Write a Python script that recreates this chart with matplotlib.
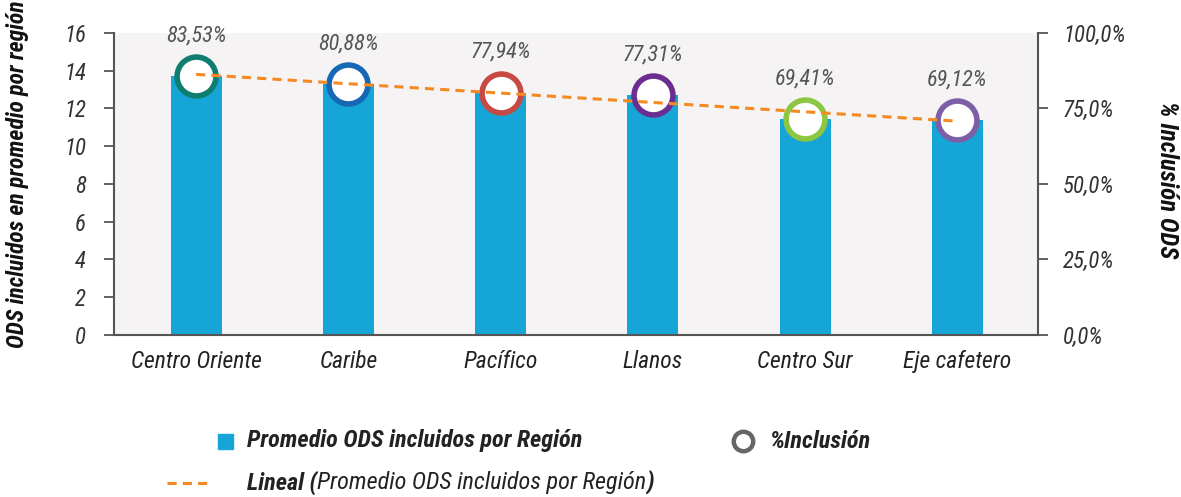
import numpy as np
import matplotlib.pyplot as plt
from matplotlib import font_manager
from matplotlib.lines import Line2D
from matplotlib.patches import Rectangle
from matplotlib.ticker import FuncFormatter

# Datos por región
regiones = ["Centro Oriente", "Caribe", "Pacífico", "Llanos", "Centro Sur", "Eje cafetero"]
promedio_ods = [13.72, 13.30, 12.84, 12.72, 11.44, 11.39]
inclusion = [83.53, 80.88, 77.94, 77.31, 69.41, 69.12]
colores_circulo = ["#0F7D6F", "#1667B4", "#C64A43", "#6C2D91", "#8DC641", "#7D5FA6"]

# fuente condensada si hay alguna instalada
fuentes = {(f.name, f.stretch) for f in font_manager.fontManager.ttflist}
nombres = {n for n, _ in fuentes}
familia, escala = "Liberation Sans", 0.9
for cand in ["Roboto Condensed", "Open Sans Condensed", "Liberation Sans Narrow"]:
    if cand in nombres:
        familia, escala = cand, 1.0
        break
else:
    if ("DejaVu Sans", "condensed") in fuentes:
        familia, escala = "DejaVu Sans", 0.95
        plt.rcParams["font.stretch"] = "condensed"

plt.rcParams["font.family"] = [familia, "DejaVu Sans"]
plt.rcParams["font.style"] = "italic"

def fs(v):
    return v * escala

color_barra = "#16A5D7"
color_tend = "#F58A22"

fig = plt.figure(figsize=(11.81, 4.97), dpi=100)
ax = fig.add_axes([0.0965, 0.326, 0.7824, 0.6076])
ax.set_facecolor("#F5F3F4")

x = np.arange(len(regiones))
ax.bar(x, promedio_ods, width=0.335, color=color_barra, zorder=2)

# circulos de inclusion sobre cada barra
for xi, yi, c, p in zip(x, promedio_ods, colores_circulo, inclusion):
    ax.plot(xi, yi, "o", ms=28, mew=4, mec=c, mfc="white", zorder=3)
    ax.annotate(f"{p:.2f}%".replace(".", ","), (xi, yi), xytext=(0, 29),
                textcoords="offset points", ha="center", va="center",
                fontsize=fs(16), color="#555555", zorder=5)

# linea de tendencia lineal del promedio
m, b = np.polyfit(x, promedio_ods, 1)
ax.plot(x, m * x + b, "--", color=color_tend, lw=2.2, dashes=(3, 2), zorder=4)

ax.set_xlim(-0.54, 5.53)
ax.set_ylim(0, 16)
ax.set_yticks(range(0, 17, 2))
ax.set_xticks(x)
ax.set_xticklabels(regiones, fontsize=fs(17), color="#222222")
ax.tick_params(axis="x", length=0, pad=11)
ax.tick_params(axis="y", length=7, width=1.3, color="#555555", pad=13,
               labelsize=fs(16.5), labelcolor="#333333")
for s in ["top", "right"]:
    ax.spines[s].set_visible(False)
for s in ["left", "bottom"]:
    ax.spines[s].set_color("#555555")
    ax.spines[s].set_linewidth(1.5)
ax.set_ylabel("ODS incluidos en promedio por región", fontsize=fs(17),
              fontweight="bold", color="#111111", va="center")
ax.yaxis.set_label_coords(-0.104, 0.533)

ax2 = ax.twinx()
ax2.set_ylim(0, 1)
ax2.set_yticks([0, 0.25, 0.5, 0.75, 1.0])
ax2.yaxis.set_major_formatter(FuncFormatter(lambda v, _: f"{v*100:.1f}%".replace(".", ",")))
ax2.tick_params(axis="y", length=7, width=1.3, color="#555555", pad=11,
                labelsize=fs(16.5), labelcolor="#333333")
for s in ["top", "left", "bottom"]:
    ax2.spines[s].set_visible(False)
ax2.spines["right"].set_color("#555555")
ax2.spines["right"].set_linewidth(1.5)
ax2.set_ylabel("% Inclusión ODS", fontsize=fs(18), fontweight="bold",
               color="#111111", rotation=270, va="center")
ax2.yaxis.set_label_coords(1.14, 0.513)

# leyenda
fs_ley = fs(17.5)
fig.patches.append(Rectangle((218 / 1181, 1 - 449 / 497), 15 / 1181, 15 / 497,
                             transform=fig.transFigure, color=color_barra))
fig.text(247 / 1181, 1 - 441 / 497, "Promedio ODS incluidos por Región",
         fontsize=fs_ley, fontweight="bold", color="#222222", va="center")
fig.lines.append(Line2D([743 / 1181], [1 - 441 / 497], marker="o", ms=14, mew=3.2,
                        mec="#666666", mfc="white", transform=fig.transFigure))
fig.text(770 / 1181, 1 - 441 / 497, "%Inclusión", fontsize=fs_ley,
         fontweight="bold", color="#222222", va="center")
fig.lines.append(Line2D([167 / 1181, 208 / 1181], [1 - 483 / 497] * 2, ls="--",
                        dashes=(3, 2), lw=2.2, color=color_tend,
                        transform=fig.transFigure))

t1 = fig.text(247 / 1181, 1 - 483 / 497, "Lineal (", fontsize=fs_ley,
              fontweight="bold", color="#222222", va="center")
fig.canvas.draw()
r = fig.canvas.get_renderer()
x1 = t1.get_window_extent(r).x1 / fig.bbox.width
t2 = fig.text(x1, 1 - 483 / 497, "Promedio ODS incluidos por Región",
              fontsize=fs_ley, color="#222222", va="center")
x2 = t2.get_window_extent(r).x1 / fig.bbox.width
fig.text(x2, 1 - 483 / 497, ")", fontsize=fs_ley, fontweight="bold",
         color="#222222", va="center")

fig.savefig("out.png", dpi=100)
